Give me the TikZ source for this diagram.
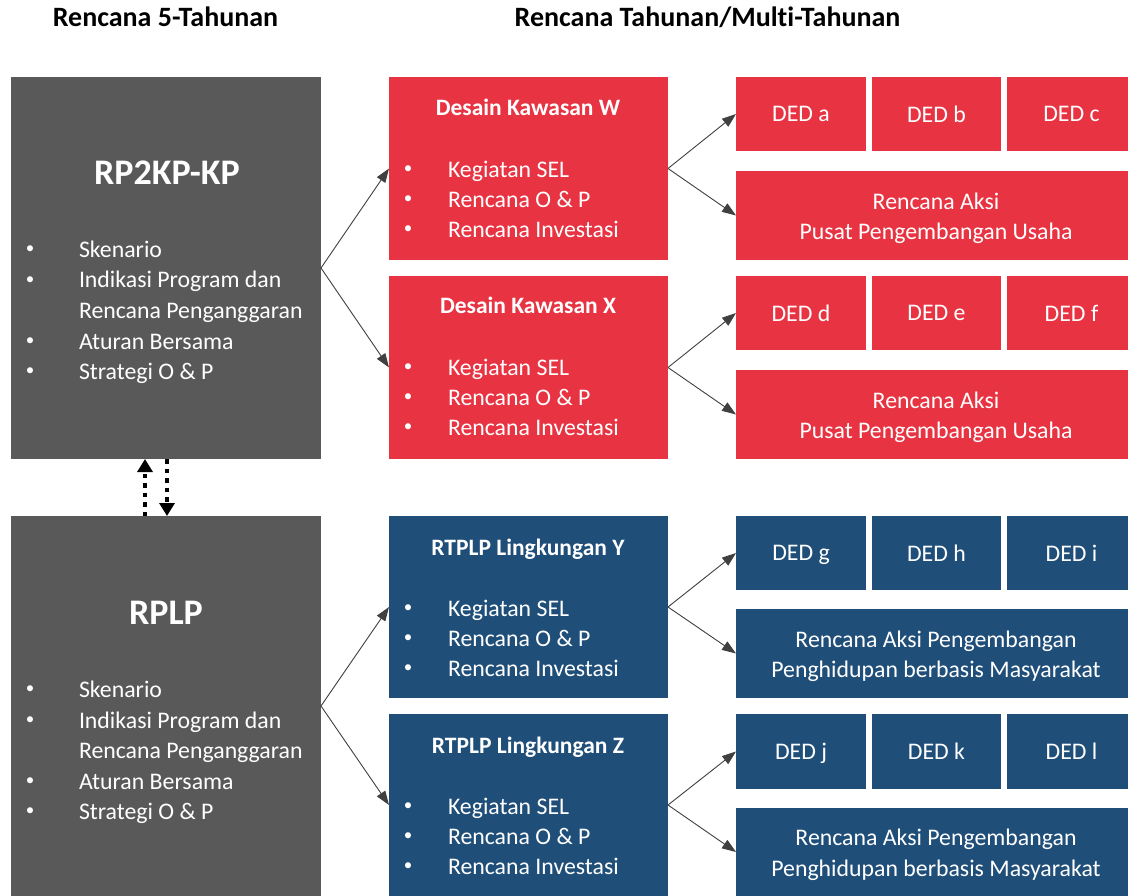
\documentclass[tikz,border=0pt]{standalone}
\usepackage{fontspec}
\setmainfont{Carlito}[RawFeature=-liga]
\usetikzlibrary{arrows.meta}
\definecolor{cgray}{HTML}{595959}
\definecolor{cred}{HTML}{E83342}
\definecolor{cblue}{HTML}{1F4E79}
\definecolor{carrow}{HTML}{404040}
\newcommand\bodyfnt{\fontsize{23.8}{30.5}\selectfont}
\newcommand\subfnt{\bfseries\fontsize{23.5}{27}\selectfont}
\newcommand\bigfnt{\bfseries\fontsize{36}{40}\selectfont}
\newcommand\headfnt{\bfseries\fontsize{28}{30}\selectfont}
% name, x1, y1, x2, y2, colour, text
\newcommand\mkbox[7]{\node[box, fill=#6, minimum width={#4-#2}, minimum height={#5-#3}] (#1) at (#2,#3) {#7};}
% name, x1, y1, x2, y2, colour, two-line text
\newcommand\mkwide[7]{\node[box, fill=#6, minimum width={#4-#2}, minimum height={#5-#3}] (#1) at (#2,#3) {};
  \node[txt, align=center, yshift=-3pt] (#1t) at (#1.center) {#7};}
% name, bullet x, text x, baseline, text
\newcommand\bitem[5]{\node[bul] (#1b) at (#2,#4-7.5) {•};\node[txt, anchor=base west] (#1t) at (#3,#4) {#5};}
\begin{document}
\begin{tikzpicture}[x=1pt,y=-1pt,
  box/.style={anchor=north west, inner sep=0pt, outer sep=0pt, draw=none, text=white, align=center, font=\bodyfnt, text depth=0pt},
  txt/.style={inner sep=0pt, outer sep=0pt, text=white, font=\bodyfnt},
  bul/.style={inner sep=0pt, outer sep=0pt, text=white, font=\fontsize{17}{17}\selectfont, anchor=center},
  ttl/.style={inner sep=0pt, text=white, anchor=base},
  head/.style={inner sep=0pt, text=black, anchor=base, font=\headfnt},
  conn/.style={draw=carrow, line width=0.9pt, -{Triangle[length=14pt,width=10pt]}},
  dotarr/.style={draw=black, line width=4.5pt, dash pattern=on 4.5pt off 5pt, -{Triangle[length=13pt,width=15pt]}}]
\useasboundingbox (0,0) rectangle (1128,896);
\fill[white] (0,0) rectangle (1128,896);

% headers
\node[head] (h1) at (165.5,27) {Rencana 5-Tahunan};
\node[head] (h2) at (707.5,27) {Rencana Tahunan/Multi-Tahunan};

% left gray boxes
\mkbox{g1}{11}{77}{321}{459}{cgray}{}
\mkbox{g2}{11}{516}{321}{896}{cgray}{}
\node[ttl, font=\bigfnt] (g1t) at (167,185) {RP2KP-KP};
\node[ttl, font=\bigfnt] (g2t) at (166,624.5) {RPLP};
\bitem{ga1}{30}{79}{257.5}{Skenario}
\bitem{ga2}{30}{79}{288}{Indikasi Program dan}
\node[txt, anchor=base west] (ga3t) at (79,318.5) {Rencana Penganggaran};
\bitem{ga4}{30}{79}{349}{Aturan Bersama}
\bitem{ga5}{30}{79}{379.5}{Strategi O \& P}
\bitem{gb1}{30}{79}{697.5}{Skenario}
\bitem{gb2}{30}{79}{728}{Indikasi Program dan}
\node[txt, anchor=base west] (gb3t) at (79,758.5) {Rencana Penganggaran};
\bitem{gb4}{30}{79}{789}{Aturan Bersama}
\bitem{gb5}{30}{79}{819.5}{Strategi O \& P}

% middle boxes
\mkbox{w}{389}{77}{668}{260}{cred}{}
\mkbox{xk}{389}{276}{668}{459}{cred}{}
\mkbox{y}{389}{516}{668}{698}{cblue}{}
\mkbox{z}{389}{714}{668}{896}{cblue}{}
\node[ttl, font=\subfnt] (wt) at (528,116) {Desain Kawasan W};
\node[ttl, font=\subfnt] (xt) at (528,314) {Desain Kawasan X};
\node[ttl, font=\subfnt] (yt) at (528,555) {RTPLP Lingkungan Y};
\node[ttl, font=\subfnt] (zt) at (528,753) {RTPLP Lingkungan Z};
\bitem{wa}{408}{448}{177.5}{Kegiatan SEL}
\bitem{wb}{408}{448}{207.5}{Rencana O \& P}
\bitem{wc}{408}{448}{237.5}{Rencana Investasi}
\bitem{xa}{408}{448}{375.5}{Kegiatan SEL}
\bitem{xb}{408}{448}{405.5}{Rencana O \& P}
\bitem{xc}{408}{448}{435.5}{Rencana Investasi}
\bitem{ya}{408}{448}{616.5}{Kegiatan SEL}
\bitem{yb}{408}{448}{646.5}{Rencana O \& P}
\bitem{yc}{408}{448}{676.5}{Rencana Investasi}
\bitem{za}{408}{448}{814.5}{Kegiatan SEL}
\bitem{zb}{408}{448}{844.5}{Rencana O \& P}
\bitem{zc}{408}{448}{874.5}{Rencana Investasi}

% right boxes
\mkbox{da}{736}{77}{866}{151}{cred}{DED a}
\mkbox{db}{872}{77}{1001}{151}{cred}{DED b}
\mkbox{dc}{1007}{77}{1136}{151}{cred}{DED c}
\mkwide{rw}{736}{171}{1136}{260}{cred}{Rencana Aksi\\Pusat Pengembangan Usaha}
\mkbox{dd}{736}{276}{866}{350}{cred}{DED d}
\mkbox{de}{872}{276}{1001}{350}{cred}{DED e}
\mkbox{df}{1007}{276}{1136}{350}{cred}{DED f}
\mkwide{rx}{736}{370}{1136}{459}{cred}{Rencana Aksi\\Pusat Pengembangan Usaha}
\mkbox{dg}{736}{516}{866}{590}{cblue}{DED g}
\mkbox{dh}{872}{516}{1001}{590}{cblue}{DED h}
\mkbox{di}{1007}{516}{1136}{590}{cblue}{DED i}
\mkwide{ry}{736}{609}{1136}{698}{cblue}{Rencana Aksi Pengembangan\\Penghidupan berbasis Masyarakat}
\mkbox{dj}{736}{714}{866}{789}{cblue}{DED j}
\mkbox{dk}{872}{714}{1001}{789}{cblue}{DED k}
\mkbox{dl}{1007}{714}{1136}{789}{cblue}{DED l}
\mkwide{rz}{736}{808}{1136}{896}{cblue}{Rencana Aksi Pengembangan\\Penghidupan berbasis Masyarakat}

% connectors
\draw[conn] (g1.east) -- (w.west);
\draw[conn] (g1.east) -- (xk.west);
\draw[conn] (g2.east) -- (y.west);
\draw[conn] (g2.east) -- (z.west);
\draw[conn] (w.east) -- (da.west);
\draw[conn] (w.east) -- (rw.west);
\draw[conn] (xk.east) -- (dd.west);
\draw[conn] (xk.east) -- (rx.west);
\draw[conn] (y.east) -- (dg.west);
\draw[conn] (y.east) -- (ry.west);
\draw[conn] (z.east) -- (dj.west);
\draw[conn] (z.east) -- (rz.west);

% dotted two-way link
\draw[dotarr] ([xshift=-21pt]g2.north) -- ([xshift=-21pt]g1.south);
\draw[dotarr] ([xshift=1pt]g1.south) -- ([xshift=1pt]g2.north);
\end{tikzpicture}
\end{document}
